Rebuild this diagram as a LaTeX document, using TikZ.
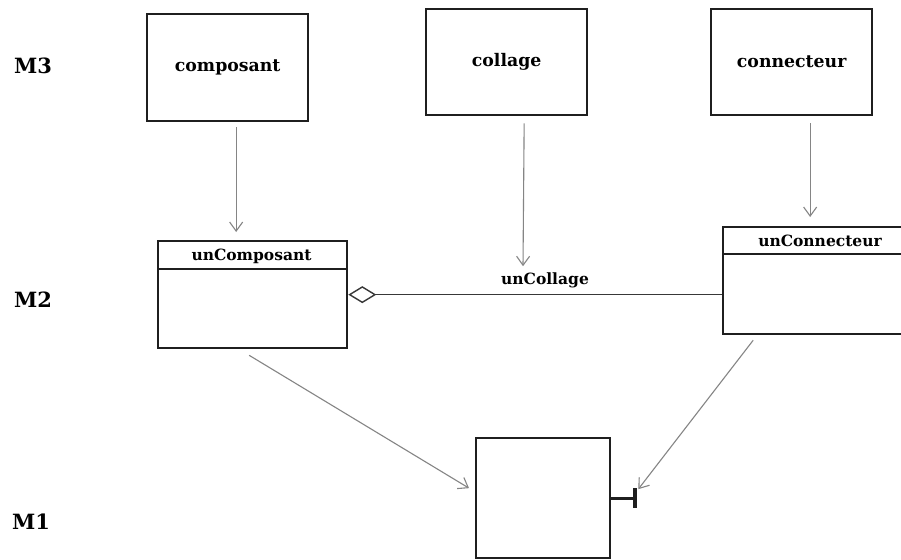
\documentclass[tikz,border=0pt]{standalone}
\usepackage{fontspec}
\setmainfont{DejaVu Serif}
\usetikzlibrary{arrows.meta}
\tikzset{
  box/.style={draw=black!88, line width=2.3pt, rectangle, inner sep=0pt, font=\bfseries\fontsize{17.3}{20}\selectfont},
  divider/.style={draw=black!88, line width=1.7pt},
  headtxt/.style={inner sep=0pt, font=\bfseries\fontsize{15.5}{18}\selectfont},
  level/.style={inner sep=0pt, font=\bfseries\fontsize{21}{24}\selectfont},
  arr/.style={draw=black!48, line width=1.1pt, -{Straight Barb[length=9pt,width=13pt]}},
  agg/.style={draw=black!78, line width=1.5pt, {Diamond[open,length=28pt,width=17pt,line width=1.4pt]}-},
}
\begin{document}
\begin{tikzpicture}[x=1pt,y=-1pt]
\useasboundingbox[fill=white] (0,0) rectangle (901,559);
% level labels
\node[level] (m3) at (33,66) {M3};
\node[level] (m2) at (33,300) {M2};
\node[level] (m1) at (31,522) {M1};
% M3 boxes
\node[box, minimum width=161pt, minimum height=107pt, anchor=north west] (composant) at (146,13) {composant};
\node[box, minimum width=161pt, minimum height=106pt, anchor=north west] (collage) at (425,8) {collage};
\node[box, minimum width=161pt, minimum height=106pt, anchor=north west] (connecteur) at (710,8) {connecteur};
% M2 classes
\node[box, minimum width=189pt, minimum height=107pt, anchor=north west] (unComposant) at (157,240) {};
\draw[divider] ([yshift=-29pt]unComposant.north west) -- ([yshift=-29pt]unComposant.north east);
\node[headtxt] (unComposantT) at (251.5,256) {unComposant};
\node[box, minimum width=196pt, minimum height=107pt, anchor=north west] (unConnecteur) at (722,226) {};
\draw[divider] ([yshift=-28pt]unConnecteur.north west) -- ([yshift=-28pt]unConnecteur.north east);
\node[headtxt] (unConnecteurT) at (820,241) {unConnecteur};
% aggregation
\draw[agg] (unComposant.east) -- (unComposant.east -| unConnecteur.west);
\node[headtxt] (unCollage) at (545,280) {unCollage};
% M1 box
\node[box, minimum width=134pt, minimum height=120pt, anchor=north west] (mone) at (475,437) {};
\coordinate (bar) at ([xshift=24pt]mone.east);
\draw[draw=black!88, line width=3pt] (mone.east) -- (bar);
\draw[draw=black!88, line width=4pt] ([yshift=10pt]bar) -- ([yshift=-10pt]bar);
% arrows
\draw[arr] ([xshift=8.5pt,yshift=-5pt]composant.south) -- ([xshift=-16.5pt,yshift=8pt]unComposant.north);
\draw[arr] ([xshift=17.5pt,yshift=-7pt]collage.south) -- ([xshift=-22pt,yshift=6pt]unCollage.north);
\draw[arr] ([xshift=18.5pt,yshift=-7pt]connecteur.south) -- ([xshift=-11pt,yshift=9pt]unConnecteur.north);
\draw[arr] ([xshift=-3.5pt,yshift=-6pt]unComposant.south) -- ([xshift=-6pt,yshift=10pt]mone.west);
\draw[arr] ([xshift=-68pt,yshift=-5pt]unConnecteur.south) -- ([xshift=3pt,yshift=9pt]bar);
\end{tikzpicture}
\end{document}
